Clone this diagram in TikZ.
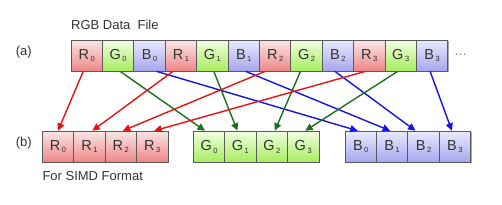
\documentclass[tikz,border=0pt]{standalone}
\usepackage{fontspec}
\setmainfont{Liberation Sans}
\usetikzlibrary{arrows.meta,shadows}
\definecolor{redtop}{HTML}{FAE6E6}
\definecolor{redbot}{HTML}{EE8686}
\definecolor{greentop}{HTML}{F2FFE2}
\definecolor{greenbot}{HTML}{A6EC5E}
\definecolor{bluetop}{HTML}{EAEAFF}
\definecolor{bluebot}{HTML}{A6A6EE}
\definecolor{cellline}{HTML}{5A5A5A}
\definecolor{linkred}{HTML}{E41414}
\definecolor{linkgreen}{HTML}{1E6E1E}
\definecolor{linkblue}{HTML}{1414E0}
\definecolor{ink}{HTML}{333333}
\newcommand{\chan}[2]{#1\kern1.5pt\raisebox{-2.8pt}{\fontsize{7.5}{7.5}\selectfont #2}}
\begin{document}
\begin{tikzpicture}[x=1pt,y=-1pt,
  font=\fontsize{13}{15}\selectfont,
  >={Triangle[length=7.5pt,width=7pt]},
  cell/.style={draw=cellline,line width=0.7pt,minimum width=31.4pt,minimum height=31pt,inner sep=0pt,
    text=ink,font=\fontsize{14.5}{14.5}\selectfont,
    drop shadow={shadow xshift=1pt,shadow yshift=-1.2pt,opacity=0.35,fill=black}},
  cellR/.style={cell,top color=redtop,bottom color=redbot},
  cellG/.style={cell,top color=greentop,bottom color=greenbot},
  cellB/.style={cell,top color=bluetop,bottom color=bluebot},
  label/.style={text=ink,inner sep=0pt},
  link/.style={->,line width=1.4pt}
]
\useasboundingbox (0,0) rectangle (502,204);
% --- RGB data file (top row) ---------------------------------------------
\node[label,anchor=base west] (title) at (71,29.3) {RGB Data\ \ File};
\node[label] (rowa) at (23.7,52) {(a)};
\foreach \c [count=\i from 0] in {R,G,B,R,G,B,R,G,B,R,G,B}{
  \pgfmathtruncatemacro\n{\i/3}
  \node[cell\c] (t\i) at (86.7+31.4*\i,55.5) {\chan{\c}{\n}};
}
\node[text=gray,inner sep=0pt] (more) at (460.5,55) {\dots};
% --- SIMD format (bottom row) --------------------------------------------
\node[label] (rowb) at (23.7,143) {(b)};
\foreach \c/\x in {R/58,G/209,B/360.7}{
  \foreach \n in {0,...,3}{
    \node[cell\c] (\c\n) at (\x+31.4*\n,146.6) {\chan{\c}{\n}};
  }
}
\node[label,anchor=base west] (simd) at (42.3,180) {For SIMD Format};
% --- links ---------------------------------------------------------------
\foreach \k/\d/\col/\so/\eo in {0/R0/linkred/-3.5/0, 1/G0/linkgreen/2/-4, 2/B0/linkblue/7/-3,
    3/R1/linkred/-8/3, 4/G1/linkgreen/1.5/-3, 5/B1/linkblue/2/-2,
    6/R2/linkred/-10/2, 7/G2/linkgreen/-6/3, 8/B2/linkblue/-3/-8,
    9/R3/linkred/-4/2, 10/G3/linkgreen/-3/2, 11/B3/linkblue/-2/-3}{
  \draw[link,\col] ([xshift=\so pt]t\k.south) -- ([xshift=\eo pt]\d.north);
}
\end{tikzpicture}
\end{document}
